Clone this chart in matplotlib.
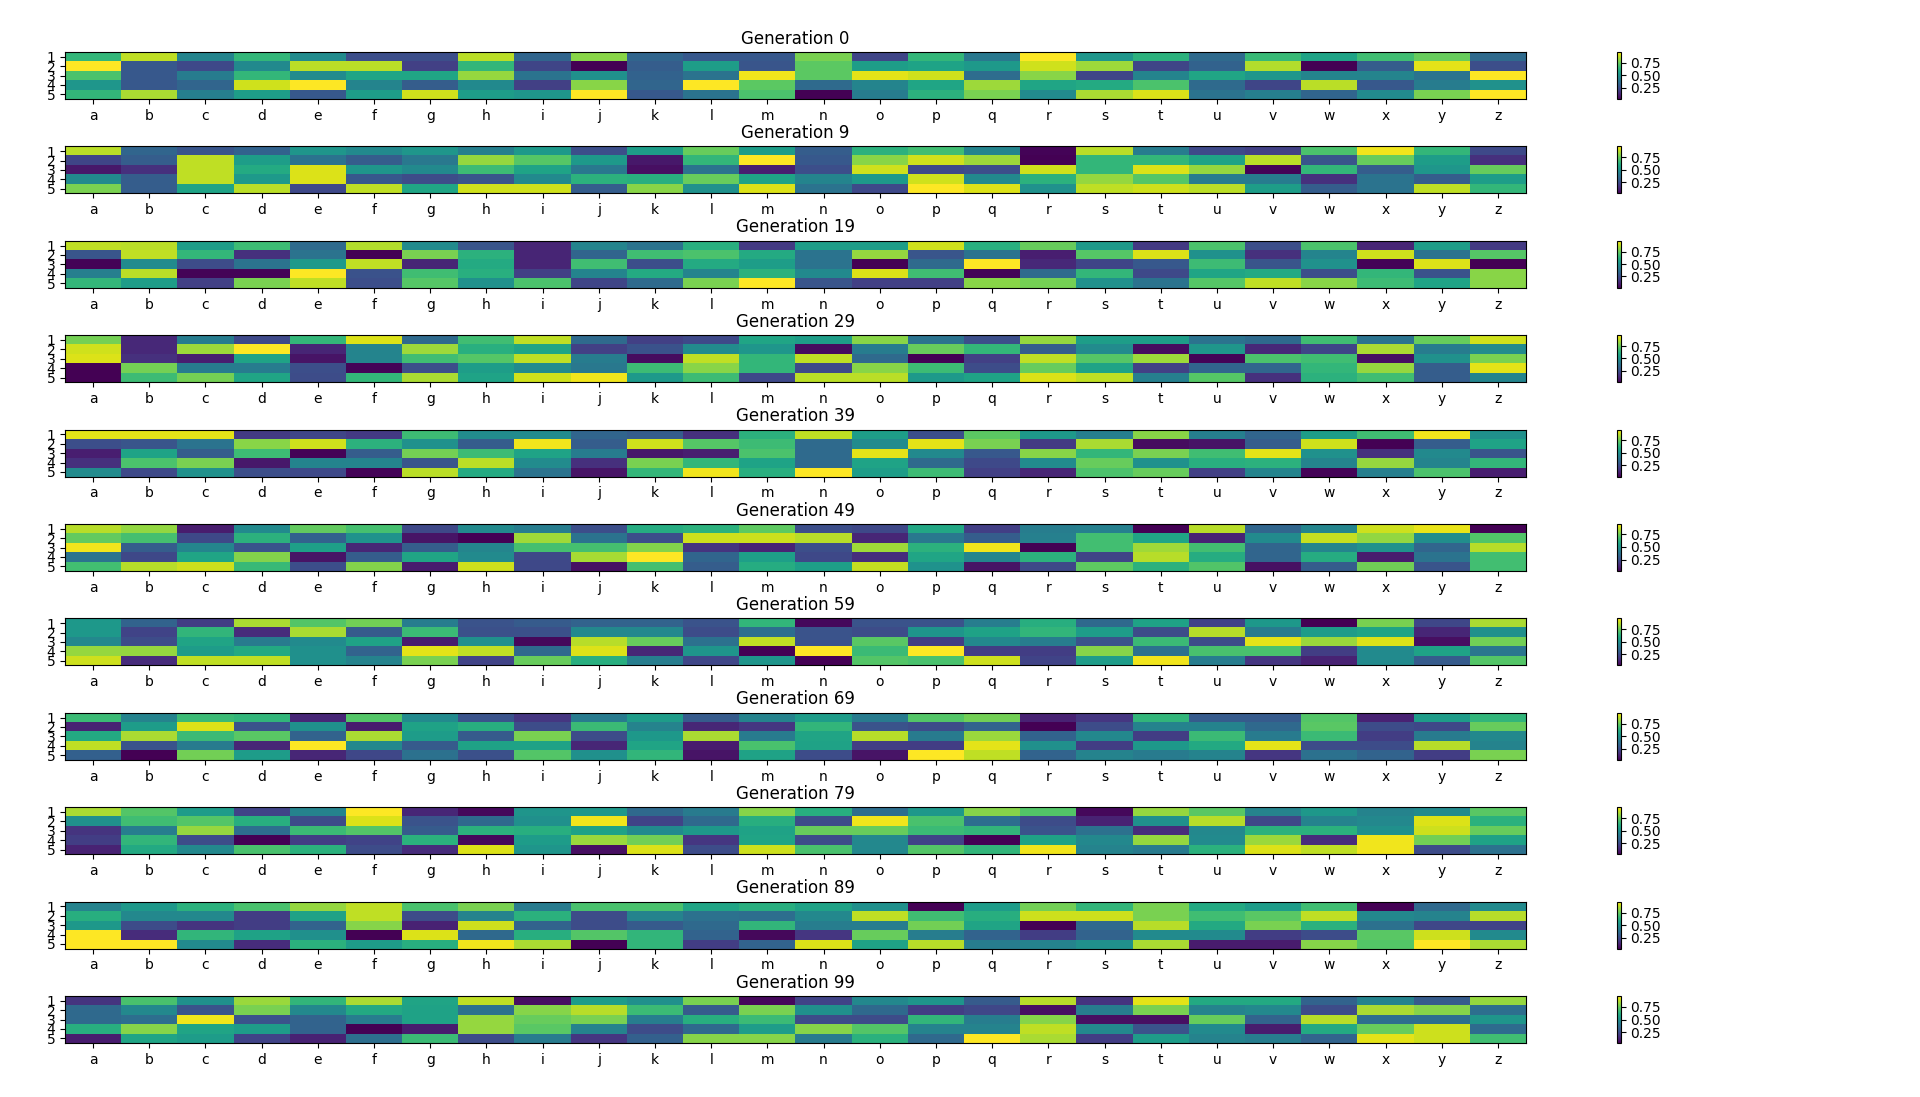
import matplotlib
matplotlib.use("Agg")
import matplotlib.pyplot as plt
import numpy as np

# column labels, row labels and the generations shown
letters = list("abcdefghijklmnopqrstuvwxyz")
row_labels = ["1", "2", "3", "4", "5"]
generations = [0, 9, 19, 29, 39, 49, 59, 69, 79, 89, 99]

# values (5 rows x 26 columns)
gen0 = [
    [0.65, 0.88, 0.45, 0.65, 0.48, 0.25, 0.25, 0.87, 0.33, 0.80, 0.33, 0.28, 0.28, 0.78, 0.22, 0.65, 0.40, 0.97, 0.52, 0.63, 0.35, 0.66, 0.57, 0.68, 0.75, 0.35],
    [0.97, 0.28, 0.23, 0.47, 0.87, 0.87, 0.20, 0.65, 0.22, 0.02, 0.30, 0.55, 0.27, 0.73, 0.55, 0.57, 0.53, 0.90, 0.83, 0.22, 0.32, 0.86, 0.02, 0.30, 0.93, 0.25],
    [0.70, 0.28, 0.42, 0.65, 0.48, 0.58, 0.58, 0.82, 0.38, 0.50, 0.32, 0.38, 0.95, 0.73, 0.93, 0.90, 0.36, 0.80, 0.22, 0.45, 0.58, 0.52, 0.45, 0.45, 0.38, 0.97],
    [0.52, 0.28, 0.33, 0.90, 0.97, 0.45, 0.30, 0.47, 0.20, 0.80, 0.33, 0.97, 0.73, 0.35, 0.45, 0.58, 0.83, 0.58, 0.60, 0.70, 0.35, 0.22, 0.87, 0.28, 0.42, 0.50],
    [0.65, 0.85, 0.43, 0.55, 0.28, 0.55, 0.90, 0.55, 0.52, 0.97, 0.28, 0.38, 0.70, 0.02, 0.42, 0.63, 0.78, 0.48, 0.85, 0.92, 0.38, 0.43, 0.33, 0.48, 0.78, 0.97],
]
gen9 = [
    [0.87, 0.33, 0.27, 0.32, 0.52, 0.47, 0.52, 0.43, 0.53, 0.25, 0.55, 0.75, 0.55, 0.30, 0.63, 0.68, 0.45, 0.03, 0.87, 0.42, 0.23, 0.20, 0.70, 0.95, 0.65, 0.23],
    [0.22, 0.30, 0.88, 0.55, 0.38, 0.30, 0.40, 0.82, 0.72, 0.53, 0.08, 0.65, 0.97, 0.28, 0.80, 0.90, 0.83, 0.02, 0.65, 0.65, 0.57, 0.87, 0.27, 0.75, 0.55, 0.15],
    [0.08, 0.15, 0.88, 0.60, 0.92, 0.52, 0.47, 0.67, 0.57, 0.40, 0.06, 0.38, 0.10, 0.25, 0.90, 0.23, 0.25, 0.90, 0.65, 0.92, 0.82, 0.03, 0.65, 0.30, 0.52, 0.75],
    [0.47, 0.30, 0.88, 0.53, 0.92, 0.28, 0.24, 0.27, 0.47, 0.63, 0.62, 0.75, 0.57, 0.45, 0.53, 0.90, 0.47, 0.63, 0.82, 0.72, 0.42, 0.42, 0.15, 0.38, 0.30, 0.55],
    [0.78, 0.30, 0.57, 0.87, 0.23, 0.88, 0.58, 0.90, 0.90, 0.30, 0.80, 0.50, 0.92, 0.38, 0.23, 0.97, 0.92, 0.50, 0.88, 0.90, 0.87, 0.55, 0.30, 0.38, 0.88, 0.65],
]
gen19 = [
    [0.88, 0.87, 0.55, 0.67, 0.35, 0.86, 0.48, 0.27, 0.12, 0.45, 0.38, 0.62, 0.18, 0.55, 0.55, 0.90, 0.62, 0.75, 0.53, 0.18, 0.70, 0.25, 0.70, 0.12, 0.55, 0.18],
    [0.27, 0.88, 0.65, 0.15, 0.38, 0.02, 0.78, 0.63, 0.12, 0.33, 0.68, 0.70, 0.60, 0.38, 0.82, 0.27, 0.38, 0.10, 0.72, 0.92, 0.50, 0.15, 0.45, 0.90, 0.38, 0.72],
    [0.03, 0.48, 0.24, 0.38, 0.53, 0.88, 0.12, 0.60, 0.12, 0.68, 0.25, 0.60, 0.55, 0.38, 0.02, 0.35, 0.97, 0.13, 0.22, 0.28, 0.67, 0.27, 0.50, 0.03, 0.92, 0.02],
    [0.43, 0.87, 0.03, 0.03, 0.97, 0.26, 0.68, 0.62, 0.20, 0.45, 0.60, 0.45, 0.63, 0.47, 0.92, 0.68, 0.03, 0.35, 0.65, 0.23, 0.58, 0.60, 0.25, 0.65, 0.26, 0.80],
    [0.65, 0.55, 0.20, 0.78, 0.88, 0.25, 0.72, 0.50, 0.70, 0.22, 0.35, 0.78, 0.97, 0.27, 0.20, 0.20, 0.80, 0.77, 0.50, 0.38, 0.72, 0.88, 0.80, 0.67, 0.57, 0.80],
]
gen29 = [
    [0.77, 0.13, 0.42, 0.23, 0.65, 0.92, 0.35, 0.68, 0.88, 0.35, 0.20, 0.23, 0.58, 0.55, 0.80, 0.38, 0.25, 0.82, 0.55, 0.55, 0.38, 0.35, 0.68, 0.38, 0.75, 0.90],
    [0.90, 0.13, 0.83, 0.97, 0.12, 0.45, 0.83, 0.62, 0.58, 0.20, 0.26, 0.48, 0.52, 0.05, 0.42, 0.75, 0.65, 0.30, 0.48, 0.05, 0.52, 0.13, 0.22, 0.85, 0.42, 0.48],
    [0.92, 0.15, 0.10, 0.57, 0.07, 0.45, 0.68, 0.72, 0.88, 0.42, 0.05, 0.88, 0.65, 0.88, 0.35, 0.02, 0.20, 0.88, 0.72, 0.83, 0.03, 0.70, 0.68, 0.06, 0.50, 0.78],
    [0.02, 0.77, 0.42, 0.42, 0.25, 0.03, 0.25, 0.55, 0.48, 0.40, 0.67, 0.80, 0.65, 0.23, 0.80, 0.67, 0.24, 0.75, 0.57, 0.20, 0.33, 0.33, 0.65, 0.82, 0.30, 0.93],
    [0.02, 0.67, 0.77, 0.58, 0.24, 0.65, 0.85, 0.57, 0.90, 0.95, 0.53, 0.67, 0.23, 0.87, 0.87, 0.53, 0.57, 0.92, 0.88, 0.43, 0.72, 0.15, 0.63, 0.68, 0.30, 0.45],
]
gen39 = [
    [0.93, 0.93, 0.93, 0.18, 0.22, 0.18, 0.67, 0.48, 0.48, 0.33, 0.30, 0.15, 0.63, 0.88, 0.55, 0.25, 0.73, 0.53, 0.43, 0.80, 0.43, 0.33, 0.55, 0.68, 0.95, 0.50],
    [0.25, 0.27, 0.38, 0.80, 0.90, 0.63, 0.50, 0.30, 0.95, 0.30, 0.90, 0.72, 0.67, 0.35, 0.48, 0.93, 0.78, 0.18, 0.85, 0.05, 0.07, 0.30, 0.90, 0.02, 0.30, 0.57],
    [0.10, 0.57, 0.30, 0.67, 0.03, 0.30, 0.77, 0.67, 0.57, 0.42, 0.08, 0.10, 0.70, 0.35, 0.93, 0.47, 0.28, 0.80, 0.65, 0.78, 0.68, 0.93, 0.50, 0.15, 0.47, 0.27],
    [0.15, 0.70, 0.78, 0.08, 0.45, 0.45, 0.27, 0.87, 0.48, 0.15, 0.78, 0.65, 0.57, 0.35, 0.57, 0.35, 0.23, 0.48, 0.75, 0.50, 0.62, 0.63, 0.45, 0.82, 0.45, 0.65],
    [0.48, 0.23, 0.50, 0.25, 0.23, 0.03, 0.87, 0.60, 0.38, 0.07, 0.65, 0.95, 0.62, 0.97, 0.55, 0.67, 0.20, 0.12, 0.70, 0.75, 0.20, 0.45, 0.03, 0.43, 0.70, 0.10],
]
gen49 = [
    [0.85, 0.80, 0.10, 0.47, 0.73, 0.68, 0.23, 0.47, 0.42, 0.25, 0.60, 0.62, 0.72, 0.25, 0.23, 0.58, 0.20, 0.42, 0.43, 0.03, 0.85, 0.33, 0.45, 0.88, 0.92, 0.03],
    [0.73, 0.68, 0.23, 0.62, 0.32, 0.50, 0.08, 0.03, 0.82, 0.38, 0.25, 0.88, 0.88, 0.85, 0.13, 0.40, 0.30, 0.43, 0.67, 0.57, 0.12, 0.47, 0.87, 0.80, 0.48, 0.70],
    [0.93, 0.30, 0.45, 0.27, 0.55, 0.13, 0.30, 0.45, 0.68, 0.68, 0.78, 0.17, 0.12, 0.25, 0.82, 0.62, 0.93, 0.03, 0.67, 0.82, 0.67, 0.33, 0.45, 0.50, 0.33, 0.85],
    [0.38, 0.23, 0.57, 0.78, 0.08, 0.30, 0.57, 0.47, 0.23, 0.83, 0.95, 0.33, 0.55, 0.23, 0.15, 0.57, 0.45, 0.62, 0.22, 0.85, 0.60, 0.33, 0.60, 0.10, 0.38, 0.67],
    [0.67, 0.85, 0.88, 0.65, 0.25, 0.78, 0.10, 0.88, 0.23, 0.07, 0.68, 0.30, 0.60, 0.55, 0.87, 0.50, 0.08, 0.23, 0.72, 0.62, 0.70, 0.07, 0.30, 0.75, 0.27, 0.67],
]
gen59 = [
    [0.53, 0.33, 0.20, 0.85, 0.72, 0.77, 0.43, 0.27, 0.30, 0.33, 0.33, 0.27, 0.65, 0.05, 0.27, 0.27, 0.43, 0.62, 0.35, 0.57, 0.22, 0.53, 0.03, 0.78, 0.23, 0.85],
    [0.53, 0.22, 0.65, 0.15, 0.85, 0.30, 0.67, 0.26, 0.26, 0.47, 0.47, 0.25, 0.37, 0.27, 0.25, 0.52, 0.57, 0.65, 0.55, 0.25, 0.87, 0.42, 0.55, 0.58, 0.13, 0.50],
    [0.47, 0.25, 0.58, 0.42, 0.48, 0.57, 0.10, 0.50, 0.05, 0.87, 0.75, 0.38, 0.88, 0.27, 0.73, 0.20, 0.47, 0.43, 0.27, 0.67, 0.25, 0.93, 0.83, 0.92, 0.07, 0.77],
    [0.82, 0.82, 0.55, 0.60, 0.50, 0.33, 0.93, 0.88, 0.35, 0.92, 0.13, 0.52, 0.03, 0.97, 0.67, 0.97, 0.20, 0.20, 0.80, 0.38, 0.70, 0.70, 0.20, 0.48, 0.57, 0.40],
    [0.90, 0.15, 0.88, 0.88, 0.50, 0.45, 0.78, 0.22, 0.75, 0.62, 0.43, 0.23, 0.52, 0.03, 0.72, 0.70, 0.90, 0.22, 0.55, 0.95, 0.43, 0.18, 0.12, 0.48, 0.30, 0.72],
]
gen69 = [
    [0.67, 0.45, 0.67, 0.65, 0.13, 0.72, 0.48, 0.27, 0.18, 0.42, 0.55, 0.30, 0.45, 0.55, 0.42, 0.72, 0.77, 0.12, 0.18, 0.65, 0.30, 0.30, 0.72, 0.12, 0.55, 0.65],
    [0.12, 0.55, 0.92, 0.27, 0.50, 0.10, 0.57, 0.62, 0.25, 0.67, 0.45, 0.13, 0.18, 0.65, 0.27, 0.25, 0.33, 0.03, 0.25, 0.45, 0.45, 0.35, 0.73, 0.25, 0.23, 0.75],
    [0.60, 0.85, 0.67, 0.73, 0.33, 0.85, 0.55, 0.30, 0.78, 0.25, 0.53, 0.85, 0.42, 0.58, 0.87, 0.42, 0.83, 0.33, 0.47, 0.20, 0.67, 0.42, 0.67, 0.20, 0.42, 0.47],
    [0.88, 0.27, 0.42, 0.13, 0.97, 0.47, 0.30, 0.57, 0.57, 0.13, 0.58, 0.10, 0.70, 0.57, 0.20, 0.20, 0.93, 0.50, 0.20, 0.53, 0.60, 0.93, 0.25, 0.25, 0.87, 0.45],
    [0.32, 0.03, 0.77, 0.55, 0.13, 0.23, 0.38, 0.26, 0.72, 0.50, 0.65, 0.08, 0.57, 0.25, 0.08, 0.97, 0.88, 0.33, 0.45, 0.42, 0.45, 0.18, 0.38, 0.33, 0.20, 0.78],
]
gen79 = [
    [0.85, 0.72, 0.55, 0.22, 0.45, 0.97, 0.13, 0.05, 0.52, 0.53, 0.35, 0.42, 0.80, 0.62, 0.37, 0.53, 0.80, 0.72, 0.05, 0.82, 0.73, 0.45, 0.53, 0.45, 0.48, 0.73],
    [0.50, 0.68, 0.72, 0.62, 0.25, 0.92, 0.27, 0.35, 0.50, 0.95, 0.22, 0.35, 0.62, 0.25, 0.95, 0.70, 0.37, 0.25, 0.12, 0.50, 0.87, 0.23, 0.45, 0.47, 0.92, 0.63],
    [0.17, 0.43, 0.82, 0.37, 0.67, 0.72, 0.30, 0.63, 0.62, 0.57, 0.48, 0.53, 0.57, 0.75, 0.75, 0.67, 0.65, 0.27, 0.38, 0.15, 0.47, 0.63, 0.63, 0.50, 0.90, 0.75],
    [0.20, 0.65, 0.25, 0.03, 0.20, 0.22, 0.63, 0.05, 0.55, 0.83, 0.77, 0.18, 0.58, 0.25, 0.47, 0.22, 0.03, 0.57, 0.47, 0.82, 0.48, 0.83, 0.15, 0.95, 0.77, 0.57],
    [0.12, 0.60, 0.47, 0.70, 0.63, 0.25, 0.15, 0.92, 0.52, 0.07, 0.92, 0.25, 0.90, 0.70, 0.47, 0.72, 0.65, 0.95, 0.45, 0.42, 0.63, 0.92, 0.88, 0.95, 0.25, 0.38],
]
gen89 = [
    [0.45, 0.53, 0.63, 0.70, 0.82, 0.88, 0.70, 0.78, 0.42, 0.70, 0.70, 0.58, 0.62, 0.57, 0.50, 0.03, 0.55, 0.77, 0.65, 0.78, 0.60, 0.55, 0.68, 0.03, 0.35, 0.48],
    [0.62, 0.47, 0.47, 0.20, 0.57, 0.88, 0.25, 0.45, 0.63, 0.25, 0.45, 0.38, 0.37, 0.47, 0.88, 0.68, 0.62, 0.90, 0.90, 0.78, 0.68, 0.73, 0.88, 0.47, 0.45, 0.87],
    [0.53, 0.25, 0.17, 0.20, 0.33, 0.80, 0.12, 0.90, 0.33, 0.25, 0.30, 0.35, 0.65, 0.43, 0.43, 0.77, 0.58, 0.03, 0.35, 0.87, 0.60, 0.78, 0.63, 0.38, 0.23, 0.22],
    [0.97, 0.15, 0.65, 0.57, 0.50, 0.03, 0.92, 0.35, 0.62, 0.72, 0.65, 0.33, 0.05, 0.18, 0.75, 0.43, 0.33, 0.20, 0.33, 0.48, 0.48, 0.20, 0.25, 0.73, 0.90, 0.48],
    [0.97, 0.97, 0.48, 0.15, 0.63, 0.55, 0.62, 0.95, 0.85, 0.03, 0.65, 0.20, 0.33, 0.92, 0.57, 0.87, 0.43, 0.45, 0.50, 0.85, 0.10, 0.10, 0.80, 0.72, 0.97, 0.85],
]
gen99 = [
    [0.17, 0.70, 0.50, 0.83, 0.65, 0.85, 0.58, 0.88, 0.07, 0.55, 0.50, 0.78, 0.05, 0.22, 0.47, 0.52, 0.30, 0.87, 0.17, 0.93, 0.60, 0.60, 0.33, 0.45, 0.30, 0.82],
    [0.35, 0.47, 0.27, 0.78, 0.47, 0.60, 0.57, 0.38, 0.80, 0.87, 0.67, 0.30, 0.78, 0.50, 0.35, 0.20, 0.23, 0.07, 0.43, 0.78, 0.45, 0.47, 0.25, 0.85, 0.80, 0.37],
    [0.35, 0.37, 0.95, 0.27, 0.33, 0.43, 0.57, 0.82, 0.75, 0.78, 0.43, 0.62, 0.67, 0.25, 0.25, 0.65, 0.43, 0.80, 0.07, 0.07, 0.75, 0.33, 0.87, 0.37, 0.37, 0.52],
    [0.62, 0.80, 0.58, 0.55, 0.33, 0.03, 0.10, 0.82, 0.73, 0.45, 0.25, 0.35, 0.55, 0.80, 0.72, 0.45, 0.45, 0.88, 0.47, 0.27, 0.48, 0.10, 0.60, 0.75, 0.90, 0.36],
    [0.10, 0.58, 0.55, 0.22, 0.12, 0.37, 0.67, 0.25, 0.42, 0.18, 0.32, 0.80, 0.80, 0.42, 0.63, 0.35, 0.97, 0.85, 0.20, 0.55, 0.45, 0.43, 0.33, 0.93, 0.90, 0.68],
]

panels = [gen0, gen9, gen19, gen29, gen39, gen49, gen59, gen69, gen79, gen89, gen99]

W, H = 1920, 1097
fig = plt.figure(figsize=(W / 100, H / 100), dpi=100)

# pixel layout of each heatmap row
left, right = 65, 1526
top0, step, ax_h = 52, 94.4, 47
cb_left, cb_w = 1617, 3.5

for i, (gen, data) in enumerate(zip(generations, panels)):
    arr = np.array(data)
    top = top0 + i * step
    bottom = H - (top + ax_h)
    ax = fig.add_axes([left / W, bottom / H, (right - left) / W, ax_h / H])
    im = ax.imshow(arr, cmap="viridis", aspect="auto")
    ax.set_title(f"Generation {gen}")
    ax.set_xticks(range(len(letters)))
    ax.set_xticklabels(letters)
    ax.set_yticks(range(len(row_labels)))
    ax.set_yticklabels(row_labels)

    cax = fig.add_axes([cb_left / W, bottom / H, cb_w / W, ax_h / H])
    fig.colorbar(im, cax=cax)

fig.savefig("out.png", dpi=100)
